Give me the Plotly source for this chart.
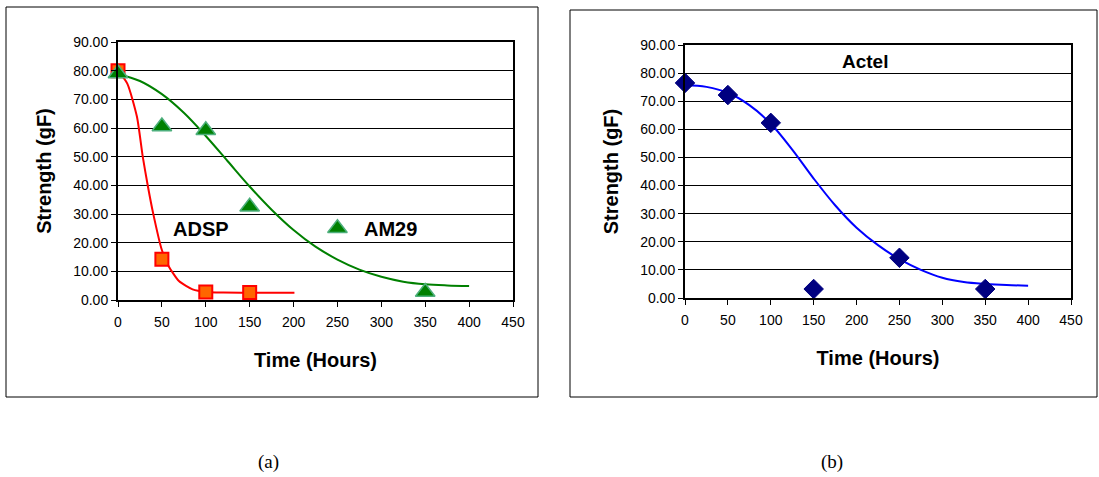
import plotly.graph_objects as go

W, H = 1099, 477

# --- measured data -------------------------------------------------------
adsp_hours = [0, 50, 100, 150]
adsp_strength = [80.0, 14.2, 2.8, 2.6]

am29_hours = [0, 50, 100, 150, 250, 350]
am29_strength = [79.0, 60.5, 59.2, 32.5, 25.0, 2.8]

actel_hours = [0, 50, 100, 150, 250, 350]
actel_strength = [76.5, 72.2, 62.3, 3.2, 14.3, 3.2]

# --- fitted trend curves -------------------------------------------------
adsp_fit_hours = [0, 10.6, 21.6, 28.2, 34.1, 40, 49.8, 57.7, 69.4, 85, 100.8, 120, 160, 201]
adsp_fit_strength = [80, 75.5, 63.9, 50, 39.6, 30.3, 17.6, 11.8, 6.6, 3.7, 2.8, 2.6, 2.5, 2.5]

am29_fit_hours = [0, 25, 50, 75, 100, 125, 150, 175, 200, 225, 250, 275, 300, 325,
                  350, 375, 400]
am29_fit_strength = [78.8, 76.4, 71.8, 65.3, 57.2, 48.4, 39.6, 31.5, 24.4, 18.6, 14.1,
                     10.6, 8.1, 6.4, 5.5, 5.1, 4.9]

actel_fit_hours = [0, 25, 50, 75, 100, 125, 150, 175, 200, 225, 250, 275, 300, 325,
                   350, 375, 400]
actel_fit_strength = [75.8, 75.1, 73.0, 68.6, 62.0, 52.8, 42.5, 33.0, 25.0, 18.8, 13.8,
                      10.0, 7.2, 5.7, 5.0, 4.6, 4.4]

x_ticks = list(range(0, 451, 50))
y_ticks = list(range(0, 91, 10))


def px(x):
    return x / W


def py(y):
    return 1 - y / H


FONT = "Liberation Sans, Arial, sans-serif"
SERIF = "Liberation Serif, Times New Roman, serif"

fig = go.Figure()

# panel (a)
fig.add_trace(go.Scatter(x=adsp_fit_hours, y=adsp_fit_strength, mode="lines",
                         line=dict(color="#FF0000", width=2, shape="spline", smoothing=0.6),
                         xaxis="x", yaxis="y", showlegend=False, hoverinfo="skip"))
fig.add_trace(go.Scatter(x=am29_fit_hours, y=am29_fit_strength, mode="lines",
                         line=dict(color="#008000", width=2, shape="spline", smoothing=1),
                         xaxis="x", yaxis="y", showlegend=False, hoverinfo="skip"))
fig.add_trace(go.Scatter(x=adsp_hours, y=adsp_strength, mode="markers", name="ADSP",
                         marker=dict(symbol="square", size=13, color="#FF6600",
                                     line=dict(color="#FF0000", width=2)),
                         cliponaxis=False, xaxis="x", yaxis="y", showlegend=False))
fig.add_trace(go.Scatter(x=am29_hours, y=am29_strength, mode="markers", name="AM29",
                         marker=dict(symbol="triangle-up", size=17, color="#008000",
                                     line=dict(color="#4DAF7C", width=1.5)),
                         cliponaxis=False, xaxis="x", yaxis="y", showlegend=False))

# panel (b)
fig.add_trace(go.Scatter(x=actel_fit_hours, y=actel_fit_strength, mode="lines",
                         line=dict(color="#0000FF", width=2, shape="spline", smoothing=1),
                         xaxis="x2", yaxis="y2", showlegend=False, hoverinfo="skip"))
fig.add_trace(go.Scatter(x=actel_hours, y=actel_strength, mode="markers", name="Actel",
                         marker=dict(symbol="diamond", size=15, color="#000080",
                                     line=dict(color="#000080", width=1)),
                         cliponaxis=False, xaxis="x2", yaxis="y2", showlegend=False))

xaxis_style = dict(range=[0, 450], tickvals=x_ticks, ticks="outside", ticklen=5,
                   tickcolor="black", showline=True, linecolor="black", linewidth=2,
                   mirror=True, showgrid=False, zeroline=False, automargin=False,
                   ticklabelstandoff=3,
                   tickfont=dict(family=FONT, size=14, color="black"),
                   title=dict(text="<b>Time (Hours)</b>", standoff=24,
                              font=dict(family=FONT, size=20, color="black")))
yaxis_style = dict(range=[0, 90], tickvals=y_ticks, tickformat=".2f", ticks="outside",
                   ticklen=5, tickcolor="black", showline=True, linecolor="black",
                   linewidth=2, mirror=True, showgrid=True, gridcolor="black",
                   gridwidth=1, zeroline=False, automargin=False,
                   tickfont=dict(family=FONT, size=14, color="black"),
                   title=dict(text="<b>Strength (gF)</b>", standoff=16,
                              font=dict(family=FONT, size=20, color="black")))

fig.update_layout(
    width=W, height=H,
    margin=dict(l=0, r=0, t=0, b=0, pad=0),
    paper_bgcolor="white", plot_bgcolor="white",
    xaxis=dict(domain=[px(118), px(513)], anchor="y", **xaxis_style),
    yaxis=dict(domain=[py(300), py(42)], anchor="x", **yaxis_style),
    xaxis2=dict(domain=[px(685), px(1071)], anchor="y2", **xaxis_style),
    yaxis2=dict(domain=[py(298), py(45)], anchor="x2", **yaxis_style),
    shapes=[
        dict(type="rect", xref="paper", yref="paper", x0=px(6), x1=px(538),
             y0=py(397), y1=py(7), line=dict(color="black", width=1)),
        dict(type="rect", xref="paper", yref="paper", x0=px(570), x1=px(1097),
             y0=py(397), y1=py(10), line=dict(color="black", width=1)),
    ],
    annotations=[
        dict(text="<b>ADSP</b>", x=94, y=24.6, xref="x", yref="y", showarrow=False,
             font=dict(family=FONT, size=20, color="black")),
        dict(text="<b>AM29</b>", x=311, y=24.6, xref="x", yref="y", showarrow=False,
             font=dict(family=FONT, size=20, color="black")),
        dict(text="<b>Actel</b>", x=210, y=84, xref="x2", yref="y2", showarrow=False,
             font=dict(family=FONT, size=19, color="black")),
        dict(text="(a)", x=px(268), y=py(462), xref="paper", yref="paper",
             xanchor="center", yanchor="middle", showarrow=False,
             font=dict(family=SERIF, size=19, color="black")),
        dict(text="(b)", x=px(832), y=py(462), xref="paper", yref="paper",
             xanchor="center", yanchor="middle", showarrow=False,
             font=dict(family=SERIF, size=19, color="black")),
    ],
)

fig.write_html("out.html")
